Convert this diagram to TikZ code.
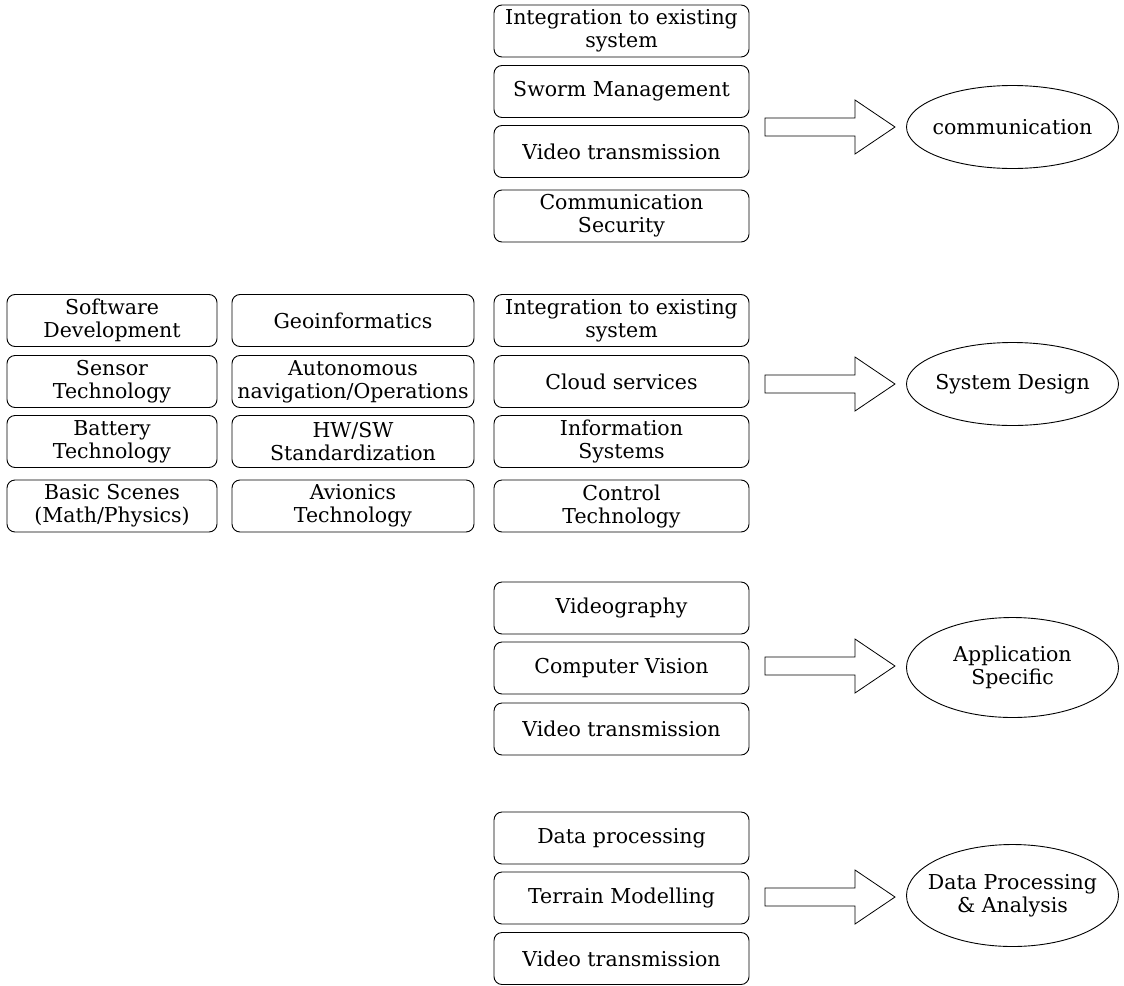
\documentclass[tikz,border=0pt]{standalone}
\usepackage{fontspec}
\setmainfont{DejaVu Serif}
\usepackage{tikz}
\usetikzlibrary{shapes.geometric,positioning}

\begin{document}
\begin{tikzpicture}[x=1pt, y=-1pt,
  box/.style={draw=black, line width=0.9pt, rounded corners=8pt, align=center,
              minimum width=255pt, minimum height=52pt, inner sep=1pt,
              font=\fontsize{20.5}{23}\selectfont},
  goal/.style={draw=black, line width=0.9pt, ellipse, align=center,
               inner xsep=-18pt, inner ysep=0pt,
               minimum width=212pt, minimum height=83pt,
               font=\fontsize{20.5}{23}\selectfont},
  blk/.style={draw=black, line width=0.8pt, fill=white}
]
  \useasboundingbox (0,0) rectangle (1124,985);

  % communication
  \node[box] (c1) at (621.5,31) {Integration to existing\\system};
  \node[box] (c2) at (621.5,91.5) {Sworm Management};
  \node[box] (c3) at (621.5,151.5) {Video transmission};
  \node[box] (c4) at (621.5,216) {Communication\\Security};
  \node[goal] (comm) at (1012.5,127) {communication};
  \draw[blk] (765,118) -- (855,118) -- (855,100) -- (895,127) -- (855,154) -- (855,136) -- (765,136) -- cycle;

  % system design
  \node[box, minimum width=210pt] (s11) at (112,320.5) {Software\\Development};
  \node[box, minimum width=210pt] (s12) at (112,381.5) {Sensor\\Technology};
  \node[box, minimum width=210pt] (s13) at (112,441.5) {Battery\\Technology};
  \node[box, minimum width=210pt] (s14) at (112,506) {Basic Scenes\\(Math/Physics)};
  \node[box, minimum width=242pt] (s21) at (353,320.5) {Geoinformatics};
  \node[box, minimum width=242pt] (s22) at (353,381.5) {Autonomous\\navigation/Operations};
  \node[box, minimum width=242pt] (s23) at (353,441.5) {HW/SW\\Standardization};
  \node[box, minimum width=242pt] (s24) at (353,506) {Avionics\\Technology};
  \node[box] (s31) at (621.5,320.5) {Integration to existing\\system};
  \node[box] (s32) at (621.5,381.5) {Cloud services};
  \node[box] (s33) at (621.5,441.5) {Information\\Systems};
  \node[box] (s34) at (621.5,506) {Control\\Technology};
  \node[goal] (sysd) at (1012.5,384) {System Design};
  \draw[blk] (765,375) -- (855,375) -- (855,357) -- (895,384) -- (855,411) -- (855,393) -- (765,393) -- cycle;

  % application specific
  \node[box] (a1) at (621.5,608) {Videography};
  \node[box] (a2) at (621.5,668) {Computer Vision};
  \node[box] (a3) at (621.5,729) {Video transmission};
  \node[goal, minimum height=100pt] (appl) at (1012.5,667.5) {Application\\Specific};
  \draw[blk] (765,657) -- (855,657) -- (855,639) -- (895,666) -- (855,693) -- (855,675) -- (765,675) -- cycle;

  % data processing
  \node[box] (d1) at (621.5,838) {Data processing};
  \node[box] (d2) at (621.5,898) {Terrain Modelling};
  \node[box] (d3) at (621.5,958.5) {Video transmission};
  \node[goal, minimum height=102pt] (data) at (1012.5,895.5) {Data Processing\\\& Analysis};
  \draw[blk] (765,888) -- (855,888) -- (855,870) -- (895,897) -- (855,924) -- (855,906) -- (765,906) -- cycle;
\end{tikzpicture}
\end{document}
